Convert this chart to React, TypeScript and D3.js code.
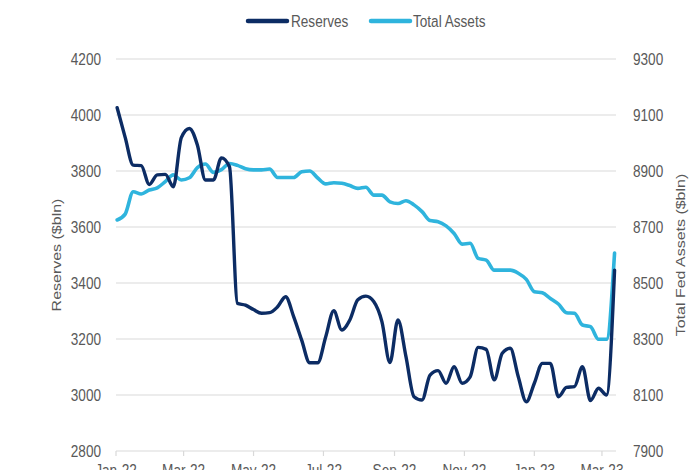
import React from "react";
import * as d3 from "d3";

const dates: string[] = [
  "2022-01-02", "2022-01-09", "2022-01-16", "2022-01-23", "2022-01-30",
  "2022-02-06", "2022-02-13", "2022-02-20", "2022-02-27",
  "2022-03-06", "2022-03-13", "2022-03-20", "2022-03-27",
  "2022-04-03", "2022-04-10", "2022-04-17", "2022-04-24",
  "2022-05-01", "2022-05-08", "2022-05-15", "2022-05-22", "2022-05-29",
  "2022-06-05", "2022-06-12", "2022-06-19", "2022-06-26",
  "2022-07-03", "2022-07-10", "2022-07-17", "2022-07-24", "2022-07-31",
  "2022-08-07", "2022-08-14", "2022-08-21", "2022-08-28",
  "2022-09-04", "2022-09-11", "2022-09-18", "2022-09-25",
  "2022-10-02", "2022-10-09", "2022-10-16", "2022-10-23", "2022-10-30",
  "2022-11-06", "2022-11-13", "2022-11-20", "2022-11-27",
  "2022-12-04", "2022-12-11", "2022-12-18", "2022-12-25",
  "2023-01-01", "2023-01-08", "2023-01-15", "2023-01-22", "2023-01-29",
  "2023-02-05", "2023-02-12", "2023-02-19", "2023-02-26",
  "2023-03-05", "2023-03-12",
];

const reserves: number[] = [
  4026, 3920, 3821, 3819, 3752, 3786, 3788, 3744, 3919, 3952,
  3893, 3768, 3768, 3847, 3815, 3327, 3321, 3305, 3292, 3294,
  3315, 3351, 3280, 3196, 3115, 3115, 3208, 3301, 3232, 3268,
  3340, 3353, 3333, 3262, 3116, 3268, 3137, 2994, 2982, 3071,
  3087, 3042, 3101, 3042, 3065, 3170, 3163, 3054, 3149, 3167,
  3065, 2976, 3042, 3113, 3113, 2994, 3027, 3030, 3101, 2980,
  3024, 3000, 3446,
];

const totalAssets: number[] = [
  8725, 8746, 8826, 8818, 8832, 8840, 8862, 8886, 8868, 8876,
  8912, 8925, 8895, 8905, 8927, 8920, 8908, 8904, 8904, 8907,
  8877, 8877, 8877, 8897, 8900, 8875, 8854, 8858, 8856, 8848,
  8838, 8842, 8814, 8814, 8790, 8784, 8794, 8779, 8755, 8723,
  8719, 8704, 8677, 8639, 8642, 8588, 8582, 8546, 8546, 8546,
  8535, 8513, 8469, 8465, 8445, 8425, 8394, 8392, 8350, 8344,
  8299, 8299, 8607,
];

const leftTicks: number[] = [2800, 3000, 3200, 3400, 3600, 3800, 4000, 4200];
const rightTicks: number[] = [7900, 8100, 8300, 8500, 8700, 8900, 9100, 9300];
const xTickDates: string[] = [
  "2022-01-01", "2022-03-01", "2022-05-01", "2022-07-01",
  "2022-09-01", "2022-11-01", "2023-01-01", "2023-03-01",
];
const xTickLabels: string[] = [
  "Jan-22", "Mar-22", "May-22", "Jul-22", "Sep-22", "Nov-22", "Jan-23", "Mar-23",
];
const seriesNames: string[] = ["Reserves", "Total Assets"];

const W = 700;
const H = 470;
const plotLeft = 116;
const plotRight = 616;
const plotTop = 59;
const plotBottom = 451;
const textColor = "#595959";
const gridColor = "#d9d9d9";
const reservesColor = "#0c2c64";
const assetsColor = "#2fb4dd";
const FONT = "'Liberation Sans', Arial, sans-serif";

const parse = d3.utcParse("%Y-%m-%d");

function T(props: {
  x: number;
  y: number;
  anchor?: string;
  size?: number;
  sx?: number;
  children: React.ReactNode;
}) {
  const { x, y, anchor = "start", size = 17, sx = 0.8, children } = props;
  return (
    <text
      transform={`translate(${x},${y}) scale(${sx},1)`}
      textAnchor={anchor}
      fontSize={size}
      fill={textColor}
      fontFamily={FONT}
    >
      {children}
    </text>
  );
}

export default function App() {
  const x = d3
    .scaleUtc()
    .domain([parse("2022-01-01")!, parse("2023-03-15")!])
    .range([plotLeft, 618]);
  const yL = d3.scaleLinear().domain([2800, 4200]).range([plotBottom, plotTop]);
  const yR = d3.scaleLinear().domain([7900, 9300]).range([plotBottom, plotTop]);

  const dts = dates.map((d) => parse(d)!);

  const resLine = d3
    .line<number>()
    .x((_, i) => x(dts[i]))
    .y((v) => yL(v))
    .curve(d3.curveMonotoneX);
  const assetLine = d3
    .line<number>()
    .x((_, i) => x(dts[i]))
    .y((v) => yR(v))
    .curve(d3.curveMonotoneX);

  const midY = (plotTop + plotBottom) / 2;

  return (
    <svg
      width={W}
      height={H}
      style={{ position: "absolute", left: 0, top: 0, background: "#fff" }}
    >
      <rect x={0} y={0} width={W} height={H} fill="#fff" />
      {/* gridlines */}
      {leftTicks.slice(1).map((t) => (
        <line
          key={"g" + t}
          x1={plotLeft}
          x2={plotRight}
          y1={yL(t)}
          y2={yL(t)}
          stroke={gridColor}
          strokeWidth={1.2}
        />
      ))}
      {/* x axis */}
      <line
        x1={plotLeft}
        x2={plotRight}
        y1={plotBottom}
        y2={plotBottom}
        stroke={gridColor}
        strokeWidth={1.2}
      />
      {xTickDates.map((d, i) => {
        const xx = x(parse(d)!);
        return (
          <g key={"xt" + d}>
            <line x1={xx} x2={xx} y1={plotBottom} y2={plotBottom + 5} stroke={gridColor} strokeWidth={1.2} />
            <T x={xx} y={476} anchor="middle">
              {xTickLabels[i]}
            </T>
          </g>
        );
      })}
      {/* left ticks */}
      {leftTicks.map((t) => (
        <T key={"l" + t} x={101} y={yL(t) + 6} anchor="end">
          {t}
        </T>
      ))}
      {/* right ticks */}
      {rightTicks.map((t) => (
        <T key={"r" + t} x={633} y={yR(t) + 6} anchor="start">
          {t}
        </T>
      ))}
      {/* axis titles */}
      <text
        transform={`translate(61,${midY}) rotate(-90) scale(1,0.85)`}
        textAnchor="middle"
        fontSize={16}
        fill={textColor}
        fontFamily={FONT}
      >
        Reserves ($bln)
      </text>
      <text
        transform={`translate(685,${midY}) rotate(-90) scale(1,0.85)`}
        textAnchor="middle"
        fontSize={16}
        fill={textColor}
        fontFamily={FONT}
      >
        Total Fed Assets ($bln)
      </text>
      {/* series */}
      <path
        d={assetLine(totalAssets) || ""}
        fill="none"
        stroke={assetsColor}
        strokeWidth={3.6}
        strokeLinejoin="round"
        strokeLinecap="round"
      />
      <path
        d={resLine(reserves) || ""}
        fill="none"
        stroke={reservesColor}
        strokeWidth={3.4}
        strokeLinejoin="round"
        strokeLinecap="round"
      />
      {/* legend */}
      <line x1={248} x2={287} y1={21} y2={21} stroke={reservesColor} strokeWidth={4.5} strokeLinecap="round" />
      <T x={291} y={27}>{seriesNames[0]}</T>
      <line x1={371} x2={410} y1={21} y2={21} stroke={assetsColor} strokeWidth={4.5} strokeLinecap="round" />
      <T x={413} y={27}>{seriesNames[1]}</T>
    </svg>
  );
}
